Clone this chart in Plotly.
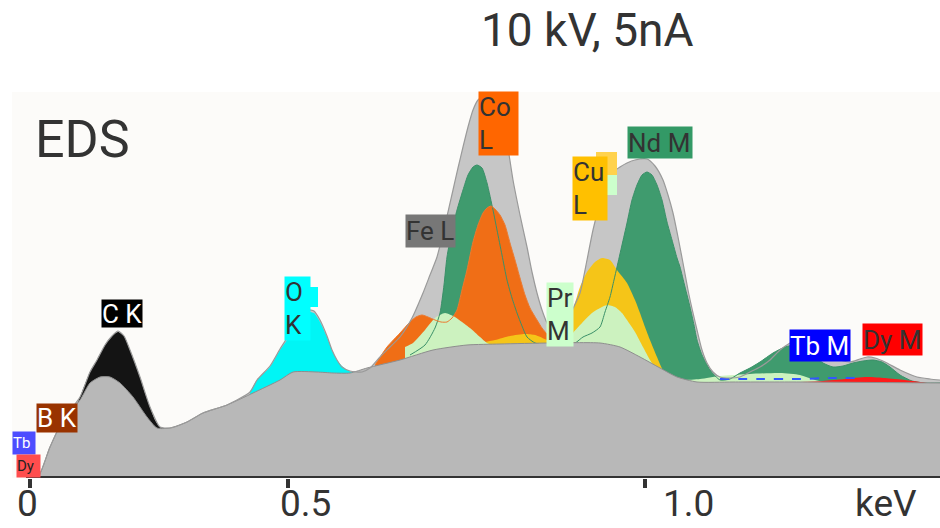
import plotly.graph_objects as go

# EDS spectrum, 10 kV / 5 nA. x = detector channel, y = counts.
# Tick marks carry the energy calibration labels.
TICK_CH = [0, 258, 615]
TICK_TEXT = ["0", "0.5", "1.0"]
TICK_LABEL_CH = [-3, 275, 658]
UNIT_LABEL_CH = 856

# Measured spectrum (total envelope)
ENVELOPE_CH = [0, 8, 20, 33, 50, 60, 67, 75, 82, 88, 94, 100, 110, 120, 130, 140, 157, 173, 197,
               220, 227, 240, 250, 257, 265, 272, 278, 284, 290, 297, 302, 307, 312, 320, 332, 340,
               350, 360, 370, 382, 393, 400, 407, 415, 423, 428, 433, 438, 443, 448, 455, 462, 468,
               473, 478, 483, 490, 497, 502, 507, 512, 517, 523, 528, 533, 540, 550, 557, 563, 570,
               577, 583, 590, 597, 605, 617, 625, 633, 638, 643, 648, 653, 658, 663, 667, 672, 677,
               683, 690, 700, 710, 720, 730, 740, 750, 760, 770, 780, 790, 800, 810, 820, 830, 837,
               845, 855, 870, 887, 900, 910]
ENVELOPE_CT = [0, 1, 31, 58, 81, 106, 118, 133, 142, 147, 142, 128, 101, 71, 51, 50, 56, 65, 73,
               86, 98, 112, 129, 140, 155, 164, 168, 167, 158, 142, 128, 118, 111, 107, 106, 110,
               121, 131, 141, 160, 185, 203, 221, 253, 288, 310, 331, 351, 368, 378, 383, 381, 371,
               358, 330, 298, 263, 231, 206, 185, 168, 155, 145, 141, 145, 163, 185, 218, 248, 275,
               298, 306, 311, 315, 318, 319, 312, 298, 283, 265, 241, 215, 188, 165, 148, 128, 115,
               106, 101, 100, 101, 106, 111, 118, 128, 135, 140, 138, 130, 123, 118, 116, 119, 121,
               120, 116, 108, 101, 99, 98]

# Bremsstrahlung background
BG_CH = [0, 8, 20, 33, 50, 60, 70, 80, 90, 103, 117, 127, 140, 157, 173, 197, 223, 250, 263, 287,
         303, 320, 337, 370, 403, 437, 470, 520, 570, 590, 610, 630, 647, 667, 703, 770, 910]
BG_CT = [0, 1, 31, 58, 78, 95, 101, 101, 95, 81, 61, 50, 50, 56, 65, 73, 85, 98, 106, 106,
         105, 105, 110, 118, 128, 133, 134, 135, 135, 131, 121, 110, 101, 96, 96, 96, 95]

# Element contributions
C_K_CH = [40, 45, 50, 60, 67, 75, 82, 88, 94, 100, 105, 110, 115, 120, 125, 130, 140]
C_K_CT = [60, 68, 81, 106, 118, 133, 142, 146, 142, 128, 115, 101, 85, 71, 58, 51, 49]

O_K_CH = [220, 227, 240, 250, 257, 265, 272, 278, 284, 290, 297, 302, 307, 312, 317, 325, 332]
O_K_CT = [86, 98, 111, 128, 138, 153, 162, 166, 165, 156, 141, 128, 118, 112, 108, 105, 105]

ND_M_CH = [380, 395, 405, 410, 414, 417, 422, 427, 433, 438, 443, 447, 452, 457, 463, 467, 472, 477,
           482, 487, 492, 497, 505, 515, 530, 545, 553, 562, 570, 575, 580, 584, 587, 592, 597, 602,
           607, 612, 617, 622, 627, 632, 637, 642, 647, 650, 655, 660, 664, 667, 672, 680, 690, 700,
           710, 720, 730, 743, 755, 765, 775, 783, 793, 803, 813, 823, 833, 843, 852, 860, 870, 882,
           895, 910]
ND_M_CT = [123, 133, 150, 165, 193, 221, 248, 268, 288, 303, 311, 313, 310, 295, 268, 248, 223, 198,
           180, 165, 152, 141, 135, 133, 133, 135, 141, 145, 151, 166, 181, 198, 211, 233, 255, 278,
           293, 303, 306, 303, 293, 278, 256, 238, 220, 211, 191, 171, 153, 138, 123, 108, 98, 99,
           105, 110, 116, 125, 131, 133, 131, 123, 115, 111, 112, 115, 117, 118, 116, 111, 103, 97,
           95, 95]

CO_L_CH = [345, 357, 370, 380, 386, 392, 398, 405, 411, 417, 422, 427, 432, 437, 443, 448, 453, 457,
           461, 465, 470, 475, 480, 485, 490, 495, 500, 507, 512, 517, 522, 530, 545]
CO_L_CT = [113, 131, 145, 156, 161, 163, 161, 158, 156, 156, 160, 168, 188, 208, 236, 253, 265, 270,
           272, 269, 263, 253, 235, 218, 200, 183, 170, 158, 150, 144, 140, 137, 135]

CU_L_CH = [450, 465, 480, 495, 505, 517, 525, 530, 535, 540, 545, 550, 557, 565, 572, 580, 587, 597,
           605, 610, 615, 620, 627, 633, 642, 655, 670]
CU_L_CT = [135, 138, 142, 144, 143, 138, 134, 133, 148, 160, 175, 191, 206, 216, 220, 218, 208, 195,
           178, 165, 151, 138, 121, 108, 101, 97, 96]

PR_M_CH = [375, 383, 395, 405, 415, 425, 432, 440, 450, 457, 465, 530, 537, 543, 552, 562, 570, 577,
           585, 592, 597, 605, 613, 620, 627, 635, 650, 670, 690, 720, 750, 770, 785, 800]
PR_M_CT = [131, 135, 148, 160, 165, 161, 156, 150, 141, 135, 132, 133, 135, 145, 155, 165, 170, 173,
           171, 165, 158, 146, 131, 118, 108, 101, 98, 99, 102, 104, 105, 103, 98, 95]

DY_M_CH = [770, 793, 815, 837, 855, 875, 890, 905]
DY_M_CT = [96, 97, 99, 101, 100, 98, 96, 94]

TB_M_CH = [690, 730, 770, 800, 830]
TB_M_CT = [99, 99, 99, 100, 100]

# Peak labels: text, channel, counts, box colour, text colour, font size, box width, box height
LABELS = [
    ("C K", 92, 165, "#000000", "#ffffff", 26, 40, 27),
    ("B K", 27, 60, "#993300", "#ffffff", 26, 40, 28),
    ("Tb", -6, 35, "#4d4dff", "#ffffff", 15, 22, 22),
    ("Dy", -2, 12, "#ff4d4d", "#222222", 15, 23, 22),
    ("O<br>K", 267, 170, "#00ffff", "#333333", 26, 25, 63),
    ("Fe L", 400, 247, "#777777", "#333333", 26, 49, 32),
    ("Co<br>L", 468, 355, "#ff6600", "#333333", 26, 39, 63),
    ("Cu<br>L", 560, 290, "#ffc000", "#333333", 26, 34, 63),
    ("Pr<br>M", 530, 164, "#ccffcc", "#333333", 26, 26, 63),
    ("Nd M", 630, 336, "#339966", "#333333", 26, 64, 31),
    ("Tb M", 790, 133, "#0000ff", "#ffffff", 26, 60, 31),
    ("Dy M", 862, 139, "#ff0000", "#333333", 26, 59, 31),
]

FONT = "Roboto"
INK = "#333333"


def area(xs, ys, color, name):
    return go.Scatter(x=xs, y=ys, mode="lines", fill="tozeroy", fillcolor=color,
                      line=dict(width=0, color=color, shape="spline", smoothing=0.6),
                      name=name, hoverinfo="skip")


def outline(xs, ys, color, width=1.0, dash="solid", name=""):
    return go.Scatter(x=xs, y=ys, mode="lines",
                      line=dict(width=width, color=color, shape="spline", smoothing=0.6, dash=dash),
                      name=name, hoverinfo="skip")


fig = go.Figure()
fig.add_trace(area(ENVELOPE_CH, ENVELOPE_CT, "#c6c6c6", "total"))
fig.add_trace(area(C_K_CH, C_K_CT, "#141414", "C K"))
fig.add_trace(area(O_K_CH, O_K_CT, "#00f5f5", "O K"))
fig.add_trace(area(ND_M_CH, ND_M_CT, "#3f9b6e", "Nd M"))
fig.add_trace(area(CO_L_CH, CO_L_CT, "#f06e16", "Co L"))
fig.add_trace(area(CU_L_CH, CU_L_CT, "#f5c518", "Cu L"))
fig.add_trace(area(PR_M_CH, PR_M_CT, "#ccf2bf", "Pr M"))
fig.add_trace(outline(ND_M_CH, ND_M_CT, "#3a9068", 1.0, name="Nd M edge"))
fig.add_trace(outline(CO_L_CH, CO_L_CT, "#ec7a30", 1.0, name="Co L edge"))
fig.add_trace(area(DY_M_CH, DY_M_CT, "#ff1a1a", "Dy M"))
fig.add_trace(go.Scatter(x=BG_CH, y=BG_CT, mode="lines", fill="tozeroy", fillcolor="#b8b8b8",
                         line=dict(width=1, color="#8e8e8e", shape="spline", smoothing=0.6),
                         name="background", hoverinfo="skip"))
fig.add_trace(outline(TB_M_CH, TB_M_CT, "#3355ff", 2.0, dash="dash", name="Tb M"))
fig.add_trace(outline(ENVELOPE_CH, ENVELOPE_CT, "#9a9a9a", 1.2, name="spectrum"))

annotations = []
for text, ch, ct, bg, fg, size, w, h in LABELS:
    annotations.append(dict(x=ch, y=ct, xref="x", yref="y", text=text, showarrow=False,
                            bgcolor=bg, borderpad=0, width=w, height=h, align="left",
                            valign="middle",
                            font=dict(family=FONT, size=size, color=fg)))

for lab, ch in zip(TICK_TEXT, TICK_LABEL_CH):
    annotations.append(dict(x=ch, y=-0.067, xref="x", yref="paper", text=lab, showarrow=False,
                            yanchor="middle", font=dict(family=FONT, size=37, color=INK)))
annotations.append(dict(x=UNIT_LABEL_CH, y=-0.067, xref="x", yref="paper", text="keV",
                        showarrow=False, yanchor="middle",
                        font=dict(family=FONT, size=37, color=INK)))
annotations.append(dict(x=557, y=1.16, xref="x", yref="paper", text="10 kV, 5nA",
                        showarrow=False, yanchor="middle",
                        font=dict(family=FONT, size=46, color=INK)))
annotations.append(dict(x=3, y=0.876, xref="x", yref="paper", text="EDS", showarrow=False,
                        xanchor="left", yanchor="middle",
                        font=dict(family=FONT, size=52, color=INK)))

shapes = [
    # x-axis baseline
    dict(type="line", xref="x", yref="y", x0=-4, x1=910, y0=0, y1=0,
         line=dict(color=INK, width=4), layer="above"),
    # partly hidden label tabs
    dict(type="rect", xref="x", yref="y", x0=280, x1=288, y0=171, y1=191,
         fillcolor="#00ffff", line=dict(width=0), layer="above"),
    dict(type="rect", xref="x", yref="y", x0=566, x1=587, y0=303, y1=326,
         fillcolor="#ffd24d", line=dict(width=0), layer="above"),
    dict(type="rect", xref="x", yref="y", x0=566, x1=587, y0=283, y1=303,
         fillcolor="#ccffcc", line=dict(width=0), layer="above"),
]

fig.update_layout(
    width=940, height=528,
    margin=dict(l=12, r=0, t=92, b=50),
    paper_bgcolor="#ffffff",
    plot_bgcolor="#fcfbf9",
    showlegend=False,
    annotations=annotations,
    shapes=shapes,
    xaxis=dict(range=[-18, 910], showgrid=False, zeroline=False, showline=False,
               tickmode="array", tickvals=TICK_CH, ticktext=TICK_TEXT, showticklabels=False,
               ticks="outside", ticklen=9, tickwidth=4, tickcolor=INK, fixedrange=True),
    yaxis=dict(range=[0, 386], showgrid=False, zeroline=False, showline=False,
               showticklabels=False, ticks="", fixedrange=True),
)

fig.write_html("out.html")
